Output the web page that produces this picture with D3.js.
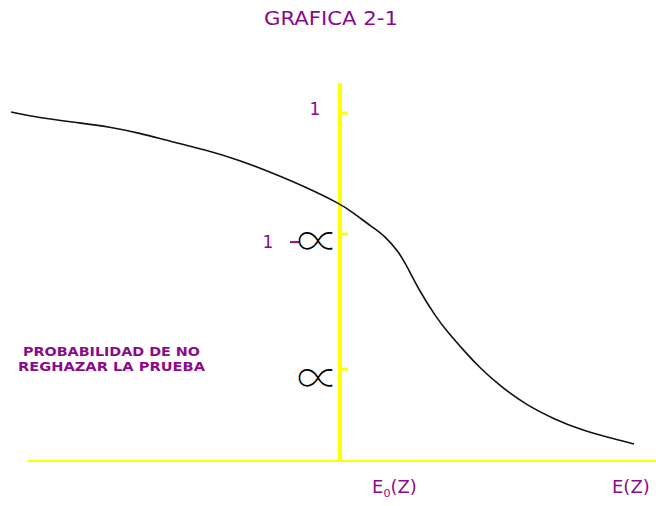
<!DOCTYPE html>
<html>
<head>
<meta charset="utf-8">
<script src="https://cdn.jsdelivr.net/npm/d3@7"></script>
<style>
  body { margin: 0; background: #fff; }
  svg { display: block; }
</style>
</head>
<body>
<svg id="chart" width="656" height="506"></svg>
<script>
// curve: z in units where E0(Z)=0 and E(Z)=1, p = probability
const curveZ = [-1.111, -1.017, -0.872, -0.780, -0.679, -0.568, -0.453, -0.341, -0.230, -0.115,
    0, 0.041, 0.108, 0.149, 0.199, 0.233, 0.267, 0.324, 0.358, 0.426, 0.470, 0.537,
    0.628, 0.730, 0.807, 0.899, 0.993];
const curveP = [1.003, 0.986, 0.971, 0.960, 0.943, 0.917, 0.894, 0.865, 0.828, 0.787,
    0.739, 0.716, 0.672, 0.649, 0.601, 0.549, 0.491, 0.414, 0.376, 0.310, 0.270, 0.218,
    0.161, 0.118, 0.092, 0.069, 0.049];

// ticks on the vertical axis
const tickValues = [1, 0.652, 0.264];
const alphaTicks = [0.652, 0.264];

const svg = d3.select("#chart");

const x = d3.scaleLinear().domain([0, 1]).range([340, 636]);
const y = d3.scaleLinear().domain([0, 1]).range([461, 113]);

const purple = "#8b0a8b";
const yellow = "#ffff00";

//title
svg.append("text")
    .attr("x", 331)
    .attr("y", 25)
    .attr("text-anchor", "middle")
    .attr("textLength", 134)
    .attr("lengthAdjust", "spacingAndGlyphs")
    .style("font-family", "DejaVu Sans")
    .style("font-size", "19px")
    .style("fill", purple)
    .text("GRAFICA 2-1");

//axes
svg.append("line")
    .attr("x1", 28).attr("x2", 656)
    .attr("y1", y(0)).attr("y2", y(0))
    .attr("stroke", yellow)
    .attr("stroke-width", 2);

svg.append("line")
    .attr("x1", x(0)).attr("x2", x(0))
    .attr("y1", 83).attr("y2", y(0))
    .attr("stroke", yellow)
    .attr("stroke-width", 4);

svg.selectAll(".tick")
    .data(tickValues)
    .enter()
    .append("line")
    .attr("class", "tick")
    .attr("x1", x(0)).attr("x2", x(0) + 8)
    .attr("y1", d => y(d)).attr("y2", d => y(d))
    .attr("stroke", yellow)
    .attr("stroke-width", 3);

//tick labels
svg.append("text")
    .attr("x", 315).attr("y", y(tickValues[0]) + 2)
    .attr("text-anchor", "middle")
    .style("font-family", "DejaVu Sans")
    .style("font-size", "17px")
    .style("fill", purple)
    .text("1");

svg.append("text")
    .attr("x", 268).attr("y", y(tickValues[1]) + 14)
    .attr("text-anchor", "middle")
    .style("font-family", "DejaVu Sans")
    .style("font-size", "17px")
    .style("fill", purple)
    .text("1");

svg.append("line")
    .attr("x1", 290).attr("x2", 299)
    .attr("y1", y(tickValues[1]) + 8).attr("y2", y(tickValues[1]) + 8)
    .attr("stroke", purple)
    .attr("stroke-width", 2);

svg.selectAll(".alpha")
    .data(alphaTicks)
    .enter()
    .append("text")
    .attr("class", "alpha")
    .attr("transform", (d, i) => `translate(318,${y(d) + (i === 0 ? 24 : 26)}) scale(1.4,1.5)`)
    .attr("text-anchor", "middle")
    .style("font-family", "'Noto Sans CJK SC'")
    .style("font-weight", "100")
    .style("font-size", "30px")
    .style("fill", "#000")
    .text("\u221D");

//curve
const line = d3.line()
    .x((d, i) => x(curveZ[i]))
    .y(d => y(d))
    .curve(d3.curveBasis);

svg.append("path")
    .datum(curveP)
    .attr("fill", "none")
    .attr("stroke", "#111")
    .attr("stroke-width", 1.6)
    .attr("d", line);

//side label
const side = svg.append("text")
    .style("font-family", "DejaVu Sans")
    .style("font-weight", "bold")
    .style("font-size", "11.5px")
    .style("fill", purple);

side.append("tspan")
    .attr("x", 23).attr("y", 356)
    .attr("textLength", 177)
    .attr("lengthAdjust", "spacingAndGlyphs")
    .text("PROBABILIDAD DE NO");

side.append("tspan")
    .attr("x", 18).attr("y", 371)
    .attr("textLength", 187)
    .attr("lengthAdjust", "spacingAndGlyphs")
    .text("REGHAZAR LA PRUEBA");

//x labels
const e0 = svg.append("text")
    .attr("x", 372).attr("y", 493)
    .style("font-family", "DejaVu Sans")
    .style("font-size", "18px")
    .style("fill", purple);
e0.append("tspan").text("E");
e0.append("tspan").attr("dy", 4).style("font-size", "11px").text("0");
e0.append("tspan").attr("dy", -4).text("(Z)");

svg.append("text")
    .attr("x", 612).attr("y", 493)
    .style("font-family", "DejaVu Sans")
    .style("font-size", "18px")
    .style("fill", purple)
    .text("E(Z)");
</script>
</body>
</html>
